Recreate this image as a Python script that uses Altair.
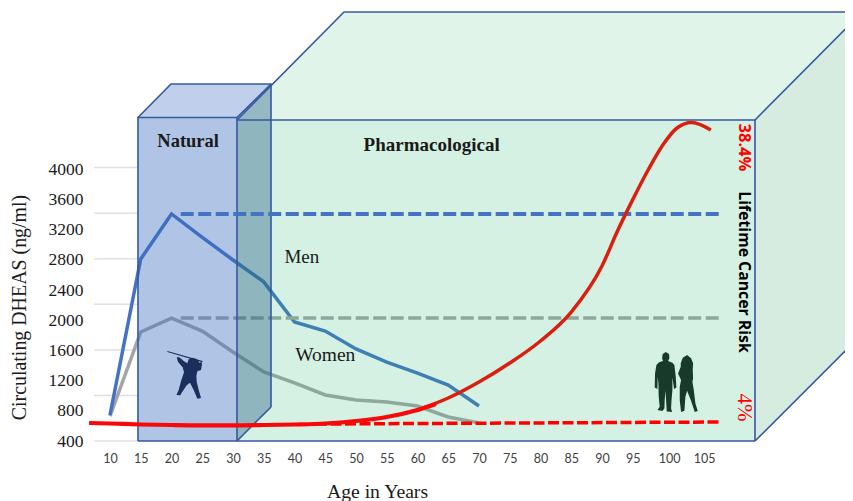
import altair as alt
import pandas as pd

# ---- series values ----
ages = [10, 15, 20, 25, 30, 35, 40, 45, 50, 55, 60, 65, 70]
men = [745, 2813, 3410, 3100, 2800, 2510, 1978, 1858, 1620, 1447, 1300, 1142, 864]
women = [730, 1845, 2030, 1858, 1580, 1315, 1170, 1010, 944, 917, 864, 718, 640]

risk_base_age = [6.6, 10, 15, 20, 25, 30, 35, 40, 45, 50, 55, 60, 63]
risk_base_val = [639, 632, 619, 612, 608, 608, 612, 619, 632, 665, 718, 811, 890]
risk_rise_age = [60, 65, 70, 75, 80, 85, 90, 92.5, 95, 97.5, 100, 102.2, 104.6, 107.7]
risk_rise_val = [811, 970, 1182, 1434, 1726, 2110, 2720, 3180, 3600, 3993, 4338, 4550, 4623, 4524]

dash_x = [21.5, 109.2]
men_dash = [3410, 3410]
women_dash = [2030, 2030]
risk_dash_x = [43.5, 109.2]
risk_dash = [625, 652]

grid_values = [400, 1004, 1608, 2213, 2817, 3421, 4026]
y_ticks = [400, 800, 1200, 1600, 2000, 2400, 2800, 3200, 3600, 4000]
x_ticks = [10, 15, 20, 25, 30, 35, 40, 45, 50, 55, 60, 65, 70, 75, 80, 85, 90, 95, 100.9, 106.6]

# box corners (age, value)
nat_x = [14.55, 19.92, 30.65, 36.18]
nat_low, nat_top, nat_back_low, nat_back_top = 400, 4689, 851, 5133
grn_x = [30.65, 48.05, 114.88, 132.3]
grn_low, grn_top, grn_back_low, grn_back_top = 400, 4656, 1819, 6088

XD = [7.4, 114.88]
YD = [400, 4656]
xs = alt.Scale(domain=XD, nice=False, zero=False)
ys = alt.Scale(domain=YD, nice=False, zero=False)
x_axis = alt.Axis(
    values=x_ticks, grid=False, domain=False, ticks=False, labelPadding=11,
    labelFont="Lato", labelFontSize=12.5, labelColor="#404040", labelOverlap=False,
    labelExpr="datum.value > 104 ? '105' : (datum.value > 99 ? '100' : datum.label)",
    title="Age in Years", titleFont="Liberation Serif", titleFontSize=19.7, titleFontWeight="normal",
    titleColor="#1a1a1a", titleX=283, titleY=50, titleAlign="center", titleBaseline="middle")
y_axis = alt.Axis(
    values=y_ticks, format="d", grid=False, domain=False, ticks=False, labelPadding=11,
    labelFont="Liberation Serif", labelFontSize=17.5, labelColor="#1a1a1a", labelOverlap=False,
    title="Circulating DHEAS (ng/ml)", titleFont="Liberation Serif", titleFontSize=19.9, titleFontWeight="normal",
    titleColor="#1a1a1a", titleX=-75, titleY=187, titleAlign="center", titleBaseline="middle")
X = lambda f: alt.X(f, type="quantitative", scale=xs, axis=x_axis)
Y = lambda f: alt.Y(f, type="quantitative", scale=ys, axis=y_axis)

def area(xv, lo, hi, color, opacity=1.0):
    d = pd.DataFrame({"x": xv, "lo": lo, "hi": hi})
    return alt.Chart(d).mark_area(color=color, opacity=opacity, strokeWidth=0, interpolate="linear").encode(
        x=X("x"), y=Y("hi"), y2="lo")

def rect(x0, x1, lo, hi, color, opacity):
    d = pd.DataFrame({"x": [x0], "x1": [x1], "lo": [lo], "hi": [hi]})
    return alt.Chart(d).mark_rect(color=color, opacity=opacity).encode(
        x=X("x"), x2="x1", y=Y("hi"), y2="lo")

def line(xv, yv, color, width, dash=None, interp="linear", cap="butt"):
    d = pd.DataFrame({"x": xv, "y": yv})
    kw = {"strokeDash": dash} if dash else {}
    return alt.Chart(d).mark_line(color=color, strokeWidth=width, interpolate=interp, strokeCap=cap, **kw).encode(
        x=X("x"), y=Y("y"))

def text(x, y, s, font, size, color="#1a1a1a", weight="normal", angle=0):
    d = pd.DataFrame({"x": [x], "y": [y], "t": [s]})
    return alt.Chart(d).mark_text(font=font, fontSize=size, color=color, fontWeight=weight, angle=angle,
                                  align="center", baseline="middle").encode(x=X("x"), y=Y("y"), text="t:N")

def glyph(polys, cx, cy, half):
    parts = []
    for p in polys:
        pts = [f"{(a - cx) / half:.3f},{(b - cy) / half:.3f}" for a, b in p]
        parts.append("M" + "L".join(pts) + "Z")
    return "".join(parts)

hunter_body = [(80,52),(88,52),(102,64),(112,70),(116,58),(128,53),(142,58),(148,68),(154,66),(156,72),(153,90),
               (142,94),(139,108),(140,125),(146,150),(153,174),(142,176),(132,152),(120,128),(110,136),(94,160),
               (91,166),(79,165),(86,150),(94,120),(102,97),(98,82),(84,66)]
hunter_spear = [(52,33),(158,63),(157,67),(52,36)]
man_shape = [(69,42),(78,36),(88,42),(89,55),(85,63),(98,68),(104,75),(108,110),(110,142),(103,147),(98,112),(98,125),
             (98,150),(95,185),(94,205),(97,216),(81,214),(79,180),(77,152),(75,180),(74,205),(68,213),(53,210),(60,200),
             (57,170),(56,130),(54,110),(53,147),(45,142),(46,100),(50,75),(58,67),(70,63),(67,55)]
woman_shape = [(123,70),(129,53),(142,45),(154,55),(160,70),(159,90),(160,115),(158,125),(162,150),(167,190),(174,213),
               (165,216),(153,180),(142,152),(137,170),(134,212),(124,216),(120,180),(120,140),(124,120),(115,100),(123,80)]

def icon(x, y, path, size, color):
    d = pd.DataFrame({"x": [x], "y": [y]})
    return alt.Chart(d).mark_point(shape=path, size=size, filled=True, color=color, opacity=1, strokeWidth=0).encode(
        x=X("x"), y=Y("y"))

grid = alt.Chart(pd.DataFrame({"y": grid_values, "x": XD[0], "x1": nat_x[0]})).mark_rule(
    color="#E0E0E0", strokeWidth=1.5).encode(x=X("x"), x2="x1", y=Y("y"))

EDGE = "#34599E"
edges = [
    line([grn_x[0], grn_x[1], grn_x[3]], [grn_top, grn_back_top, grn_back_top], EDGE, 1.6),
    line([grn_x[2], grn_x[3]], [grn_top, grn_back_top], EDGE, 1.6),
    line([grn_x[2], grn_x[3]], [grn_low, grn_back_low], EDGE, 1.6),
    line([grn_x[0], grn_x[2], grn_x[2]], [grn_top, grn_top, grn_low], EDGE, 1.6),
    line([nat_x[0], grn_x[2]], [grn_low, grn_low], EDGE, 1.6),
    line([nat_x[0], nat_x[0], nat_x[2], nat_x[2]], [nat_low, nat_top, nat_top, nat_low], EDGE, 1.6),
    line([nat_x[0], nat_x[1], nat_x[3], nat_x[3]], [nat_top, nat_back_top, nat_back_top, nat_back_low], EDGE, 1.6),
    line([nat_x[2], nat_x[3]], [nat_top, nat_back_top], EDGE, 1.6),
    line([nat_x[2], nat_x[3]], [nat_low, nat_back_low], EDGE, 1.6),
]

layers = [
    grid,
    # opaque far faces
    area(grn_x, [grn_top, grn_top, grn_top, grn_back_top], [grn_top, grn_back_top, grn_back_top, grn_back_top], "#E0F4E9"),
    area(grn_x[2:], [grn_low, grn_back_low], [grn_top, grn_back_top], "#D7ECE0"),
    area(nat_x, [nat_top, nat_top, nat_top, nat_back_top], [nat_top, nat_back_top, nat_back_top, nat_back_top], "#C0D0EC"),
    # series under the translucent boxes
    line(ages, women, "#A5A5A5", 3.5),
    line(ages, men, "#4472C4", 3.5),
    line(dash_x, women_dash, "#A5A5A5", 3.5, dash=[13, 4.5]),
    # translucent front faces
    rect(grn_x[0], grn_x[2], grn_low, grn_top, "#2DB973", 0.2),
    rect(nat_x[0], nat_x[2], nat_low, nat_top, "#396BBE", 0.4),
    area(nat_x[2:], [nat_low, nat_back_low], [nat_top, nat_back_top], "#265F89", 0.4),
    *edges,
    line(dash_x, men_dash, "#4472C4", 4, dash=[13, 4.5]),
    line(risk_dash_x, risk_dash, "#FF0000", 3.5, dash=[11, 3.5]),
    line(risk_rise_age, risk_rise_val, "#D9200F", 3.5, interp="monotone"),
    line(risk_base_age, risk_base_val, "#F80808", 4.2, interp="monotone"),
    text(22.7, 4371, "Natural", "Liberation Serif", 18.5, weight="bold"),
    text(62.3, 4331, "Pharmacological", "Liberation Serif", 19, weight="bold"),
    text(41.2, 2840, "Men", "Liberation Serif", 19),
    text(45, 1534, "Women", "Liberation Serif", 19.5),
    text(113.1, 4292, "38.4%", "Open Sans", 16.5, color="#FF0000", weight="bold", angle=90),
    text(113.1, 2641, "Lifetime Cancer Risk", "Open Sans", 15.8, color="#000000", weight="bold", angle=90),
    text(113.1, 844, "4%", "Liberation Serif", 21, color="#FF0000", angle=90),
    icon(22.2, 1275, glyph([hunter_body, hunter_spear], 105, 105, 70), 2178, "#1B2F5C"),
    icon(102.1, 1186, glyph([man_shape, woman_shape], 110, 125, 110), 5390, "#173A2A"),
]

chart = alt.layer(*layers).properties(
    width=661, height=321,
    padding={"left": 86, "top": 112, "right": 90, "bottom": 60},
    autosize=alt.AutoSizeParams(type="none"),
    background="white",
).configure_view(stroke=None)

chart.save("out.html", embed_options={"renderer": "svg", "actions": False})
